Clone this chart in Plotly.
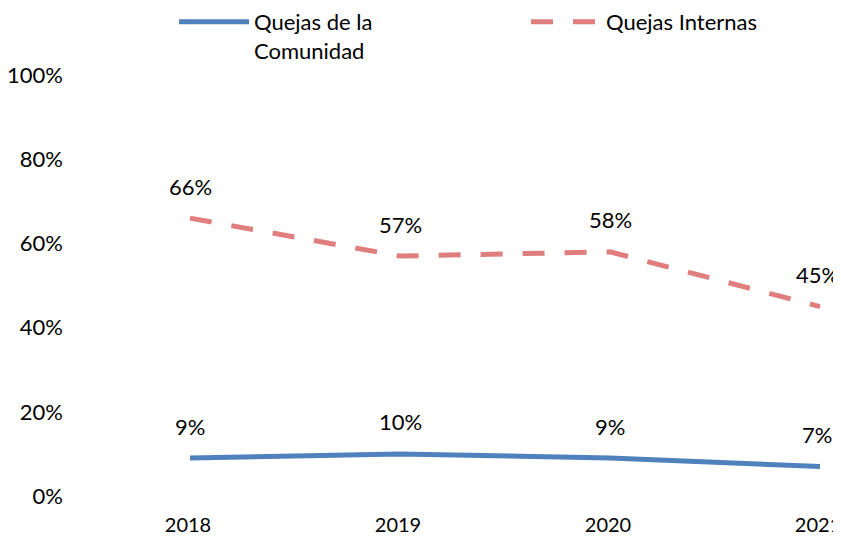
import plotly.graph_objects as go

years = ["2018", "2019", "2020", "2021"]
comunidad = [9, 10, 9, 7]
internas = [66, 57, 58, 45]
y_ticks = [0, 20, 40, 60, 80, 100]
y_tick_labels = ["0%", "20%", "40%", "60%", "80%", "100%"]

blue = "#4F81BD"
red = "#E07E7E"
font = "Lato, Open Sans, sans-serif"
FS = 22

# page has an 8px body margin, figure is offset by (8, 8)
W, H = 833, 531
L, R, T, B = 56, 10, 52, 34
PW = W - L - R
PH = H - T - B
x0, x3 = 182, 812          # pixel centers of first/last category
y0, y100 = 488, 67         # pixel of 0% and 100%
ppu = (y0 - y100) / 100.0

fig = go.Figure()
fig.add_trace(go.Scatter(
    x=years, y=comunidad, mode="lines", name="Quejas de la<br>Comunidad",
    line=dict(color=blue, width=5)))
fig.add_trace(go.Scatter(
    x=years, y=internas, mode="lines", name="Quejas Internas",
    line=dict(color=red, width=5, dash="22px,20px")))

for series in (comunidad, internas):
    for i, v in enumerate(series):
        fig.add_annotation(x=i, y=v, xref="x", yref="y", text=f"{v}%",
                           showarrow=False, yshift=32,
                           xshift=-3 if i == len(series) - 1 else 0,
                           font=dict(size=FS, color="black", family=font))

step = (x3 - x0) / 3
fig.update_layout(
    width=W, height=H,
    margin=dict(l=L, r=R, t=T, b=B, autoexpand=False),
    plot_bgcolor="white", paper_bgcolor="white",
    font=dict(family=font, size=FS, color="black"),
    showlegend=True,
    legend=dict(orientation="h", x=(166 - L) / PW, xanchor="left",
                y=1 + (T + 7) / PH, yref="paper", yanchor="top",
                valign="top", entrywidth=267, entrywidthmode="pixels",
                font=dict(size=FS, family=font, color="black"),
                bgcolor="rgba(0,0,0,0)", itemwidth=70),
    xaxis=dict(type="category",
               range=[-(x0 - L) / step, 3 + (L + PW - x3) / step],
               showgrid=False, showline=False, zeroline=False, ticks="",
               ticklabelstandoff=6, ticklabelshift=-2,
               tickfont=dict(size=20)),
    yaxis=dict(range=[-(T + PH - y0) / ppu, 100 + (y100 - T) / ppu],
               tickvals=y_ticks, ticktext=y_tick_labels,
               showgrid=False, zeroline=False, showline=False, ticks="",
               tickfont=dict(size=FS)),
)

fig.write_html("out.html")
